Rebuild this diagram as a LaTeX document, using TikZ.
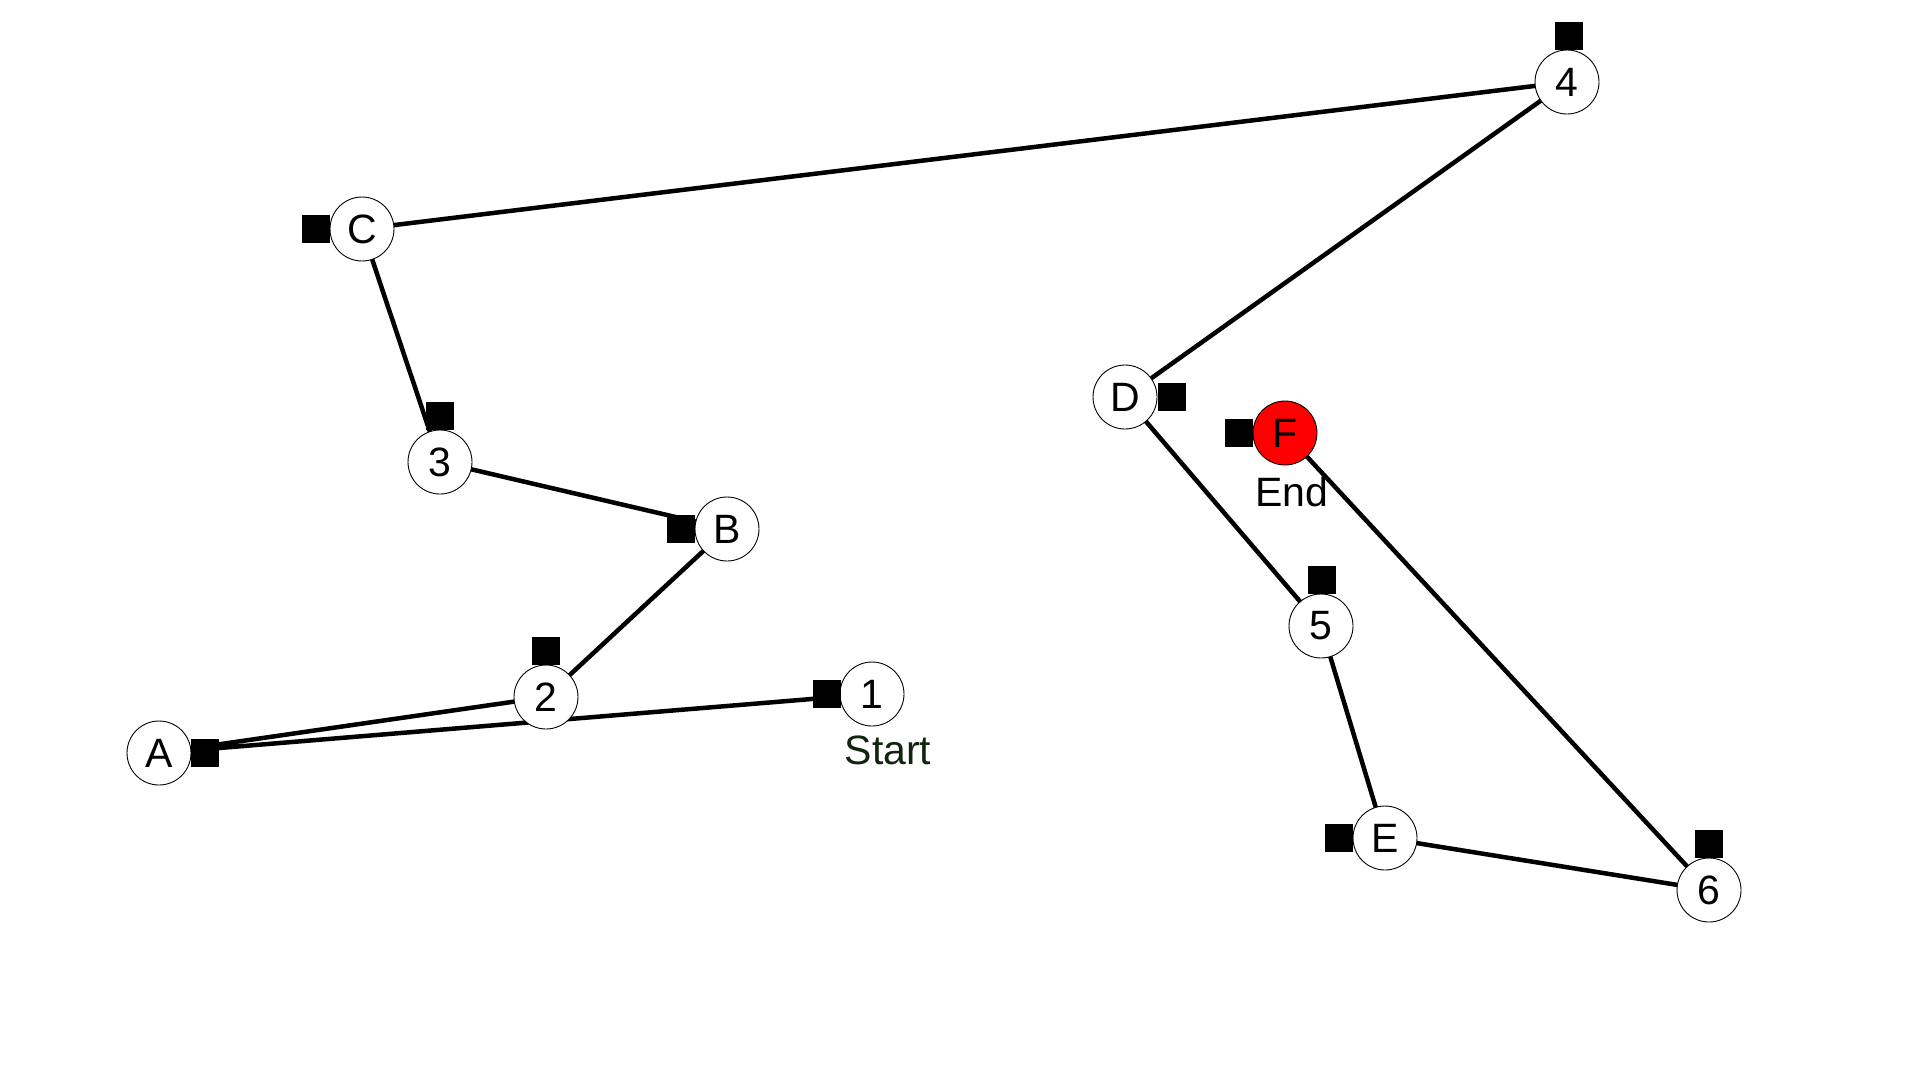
\documentclass[tikz,border=0pt]{standalone}
\usepackage{fontspec}
\setmainfont{Liberation Sans}
\begin{document}
\begin{tikzpicture}[x=1pt,y=-1pt,
  stop/.style={circle,draw=black,line width=0.9pt,fill=white,minimum size=64pt,inner sep=0pt,font=\fontsize{41}{48}\selectfont},
  endstop/.style={stop,fill=red},
  marker/.style={rectangle,fill=black,minimum size=28pt,inner sep=0pt},
  leg/.style={line width=4.5pt},
  tag/.style={font=\fontsize{41}{48}\selectfont,inner sep=0pt}]
\useasboundingbox (0,0) rectangle (1920,1080);
% stop positions
\coordinate (p1) at (872,694);
\coordinate (pA) at (159,753);
\coordinate (p2) at (546,697);
\coordinate (pB) at (727,529);
\coordinate (p3) at (440,462);
\coordinate (pC) at (362,229);
\coordinate (p4) at (1567,82);
\coordinate (pD) at (1125,397);
\coordinate (p5) at (1321,626);
\coordinate (pE) at (1385,838);
\coordinate (p6) at (1709,890);
\coordinate (pF) at (1285,433);
% route legs, drawn underneath the stops
\draw[leg] (p1) -- (pA) -- (p2) -- (pB) -- (p3) -- (pC) -- (p4) -- (pD) -- (p5) -- (pE) -- (p6) -- (pF);
% stops
\node[stop] (n1) at (p1) {1};
\node[stop] (nA) at (pA) {A};
\node[stop] (n2) at (p2) {2};
\node[stop] (nB) at (pB) {B};
\node[stop] (n3) at (p3) {3};
\node[stop] (nC) at (pC) {C};
\node[stop] (n4) at (p4) {4};
\node[stop] (nD) at (pD) {D};
\node[stop] (n5) at (p5) {5};
\node[stop] (nE) at (pE) {E};
\node[stop] (n6) at (p6) {6};
\node[endstop] (nF) at (pF) {F};
% side markers
\node[marker] (m1) at ([xshift=-45pt]n1.center) {};
\node[marker] (mA) at ([xshift=46pt]nA.center) {};
\node[marker] (m2) at ([yshift=46pt]n2.center) {};
\node[marker] (mB) at ([xshift=-46pt]nB.center) {};
\node[marker] (m3) at ([yshift=46pt]n3.center) {};
\node[marker] (mC) at ([xshift=-46pt]nC.center) {};
\node[marker] (m4) at ([xshift=2pt,yshift=46pt]n4.center) {};
\node[marker] (mD) at ([xshift=47pt]nD.center) {};
\node[marker] (mF) at ([xshift=-46pt]nF.center) {};
\node[marker] (m5) at ([xshift=1pt,yshift=46pt]n5.center) {};
\node[marker] (mE) at ([xshift=-46pt]nE.center) {};
\node[marker] (m6) at ([yshift=46pt]n6.center) {};
% labels
\node[tag,text={rgb,255:red,16;green,36;blue,16}] (start) at (888,750) {Start};
\node[tag] (end) at (1292,492) {End};
\end{tikzpicture}
\end{document}
